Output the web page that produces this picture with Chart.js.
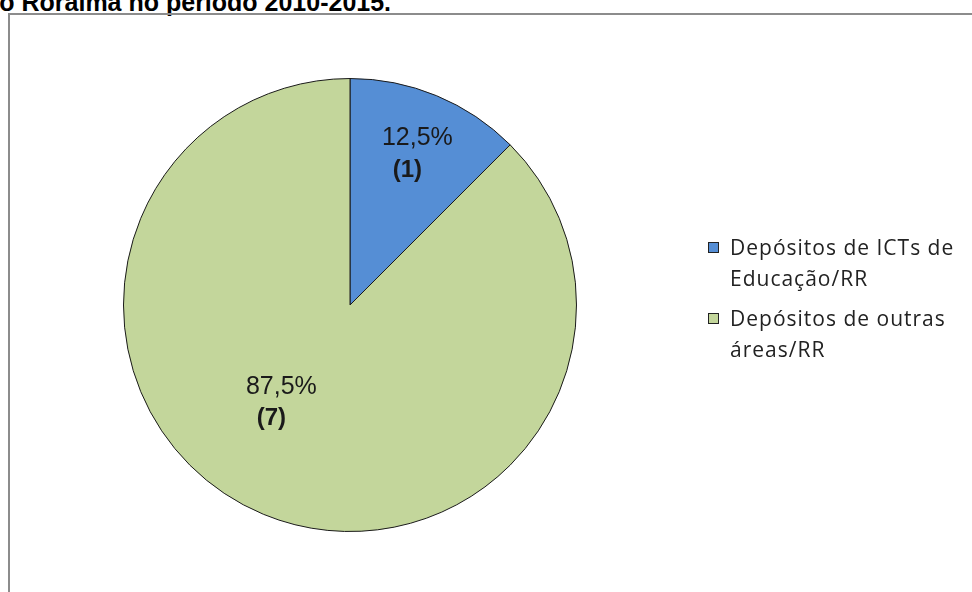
<!DOCTYPE html>
<html>
<head>
<meta charset="utf-8">
<script src="https://cdn.jsdelivr.net/npm/chart.js@4.4.1/dist/chart.umd.min.js"></script>
<style>
    html, body { margin: 0; padding: 0; background: #fff; overflow: hidden; }
    #wrap { position: relative; width: 972px; height: 592px; overflow: hidden; background: #fff; }
    #frame { position: absolute; left: 8px; top: 13px; width: 1000px; height: 700px;
             border-left: 2px solid #8c8c8c; border-top: 2px solid #8c8c8c; }
    #title { position: absolute; left: -16px; top: -12px; white-space: nowrap; color: #000;
             font: bold 25px "Liberation Sans", Arial, sans-serif; }
    canvas { position: absolute; left: 0; top: 0; }
</style>
</head>
<body>
<div id="wrap">
    <div id="title">do Roraima no período 2010-2015.</div>
    <div id="frame"></div>
    <canvas id="chart" width="972" height="592"></canvas>
</div>
<script>
const categories = ["Depósitos de ICTs de Educação/RR", "Depósitos de outras áreas/RR"];
const legendLines = [["Depósitos de ICTs de", "Educação/RR"], ["Depósitos de outras", "áreas/RR"]];
const counts = [1, 7];
const sliceColors = ["#558ED5", "#C3D69B"];

// where each label block sits: fraction of radius and angle shift (deg)
const labelPlace = [{ f: 0.72, da: 0 }, { f: 0.54, da: 14.5 }];

const total = counts.reduce((a, b) => a + b, 0);

function pct(v) {
    return (v / total * 100).toFixed(1).replace(".", ",") + "%";
}

const sliceLabels = {
    id: "sliceLabels",
    afterDatasetsDraw(chart) {
        const ctx = chart.ctx;
        const meta = chart.getDatasetMeta(0);
        ctx.save();
        ctx.fillStyle = "#1a1a1a";
        ctx.textAlign = "center";
        ctx.textBaseline = "middle";
        meta.data.forEach((arc, i) => {
            const p = arc.getProps(["x", "y", "startAngle", "endAngle", "outerRadius"], true);
            const mid = (p.startAngle + p.endAngle) / 2 + labelPlace[i].da * Math.PI / 180;
            const r = p.outerRadius * labelPlace[i].f;
            const cx = p.x + Math.cos(mid) * r;
            const cy = p.y + Math.sin(mid) * r;
            ctx.font = '25px "Liberation Sans", Arial, sans-serif';
            ctx.fillText(pct(counts[i]), cx + 5, cy - 16);
            ctx.font = 'bold 24px "Liberation Sans", Arial, sans-serif';
            ctx.fillText("(" + counts[i] + ")", cx - 5, cy + 16);
        });
        ctx.restore();
    }
};

const sideLegend = {
    id: "sideLegend",
    afterDraw(chart) {
        const ctx = chart.ctx;
        ctx.save();
        ctx.font = '21px "Open Sans", sans-serif';
        if ("letterSpacing" in ctx) ctx.letterSpacing = "1px";
        ctx.textBaseline = "alphabetic";
        ctx.textAlign = "left";
        let base = 255;
        legendLines.forEach((lines, i) => {
            ctx.fillStyle = sliceColors[i];
            ctx.fillRect(708, base - 13, 11, 11);
            ctx.strokeStyle = "#222";
            ctx.lineWidth = 1;
            ctx.strokeRect(708.5, base - 12.5, 10, 10);
            ctx.fillStyle = "#222";
            lines.forEach((t, j) => {
                ctx.fillText(t, 730, base + j * 31);
            });
            base += (lines.length - 1) * 31 + 40;
        });
        ctx.restore();
    }
};

new Chart(document.getElementById("chart").getContext("2d"), {
    type: "pie",
    data: {
        labels: categories,
        datasets: [{
            data: counts,
            backgroundColor: sliceColors,
            borderColor: "#1a1a1a",
            borderWidth: 1
        }]
    },
    options: {
        responsive: false,
        animation: false,
        events: [],
        layout: {
            padding: { left: 123, right: 395, top: 78, bottom: 60 }
        },
        plugins: {
            legend: { display: false },
            tooltip: { enabled: false }
        }
    },
    plugins: [sliceLabels, sideLegend]
});
</script>
</body>
</html>
